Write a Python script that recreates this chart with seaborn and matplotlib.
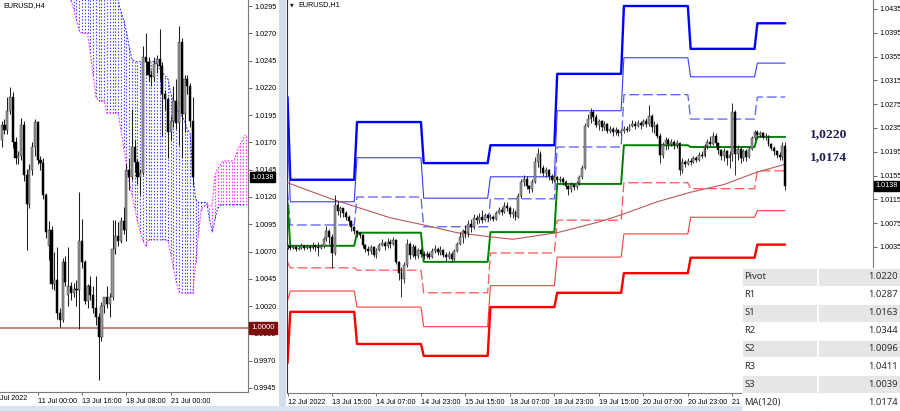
import numpy as np
import pandas as pd
import matplotlib
matplotlib.use("Agg")
import matplotlib.pyplot as plt
import matplotlib.transforms as mtrans
from matplotlib.patches import Rectangle
import seaborn as sns

# ================= DATA =================
# ---- right panel: EURUSD H1 candles, prices in pips above 1.0000 (bar 0 = 12 Jul 23:00)
h1_first_open = 34
h1_close = [36, 33, 35, 32, 34, 36, 33, 35, 34, 37, 35, 33, 36, 48, 62, 52, 25, 105, 96, 100, 92, 86, 78, 68, 62,
            58, 55, 38, 32, 28, 35, 22, 30, 38, 42, 36, 44, 40, 46, 10, -8, -18, 5, 40, 22, 35, 20, 30, 24,
            20, 24, 18, 28, 32, 26, 30, 22, 18, 24, 14, 28, 40, 52, 62, 58, 74, 68, 84, 80, 86, 80, 88, 84,
            86, 82, 92, 98, 94, 104, 100, 90, 94, 86, 120, 145, 150, 138, 132, 145, 178, 192, 168, 160, 164, 155, 148, 152,
            147, 150, 145, 138, 133, 140, 135, 142, 152, 168, 238, 250, 262, 254, 240, 246, 236, 242, 230, 234, 228, 232, 226, 230,
            234, 232, 238, 242, 238, 244, 240, 246, 242, 255, 236, 240, 222, 190, 206, 214, 208, 212, 206, 210, 164, 178, 174, 180,
            178, 184, 182, 190, 188, 204, 212, 208, 222, 210, 198, 188, 196, 184, 190, 262, 192, 200, 184, 196, 186, 200, 218, 228,
            224, 226, 220, 222, 208, 202, 196, 190, 186, 205, 138]
h1_high = [40, 38, 39, 37, 37, 41, 38, 39, 38, 43, 40, 44, 40, 52, 70, 66, 56, 122, 113, 104, 100, 95, 88, 80, 70,
           64, 60, 57, 40, 36, 38, 37, 34, 42, 48, 45, 50, 48, 51, 48, 12, 2, 10, 48, 44, 40, 38, 34, 33,
           28, 28, 26, 33, 38, 35, 36, 32, 26, 28, 26, 32, 44, 60, 66, 72, 80, 82, 90, 88, 92, 97, 92, 90,
           90, 89, 96, 102, 102, 110, 111, 104, 100, 98, 126, 150, 156, 154, 140, 150, 186, 201, 196, 172, 170, 166, 158, 156,
           155, 154, 152, 148, 140, 144, 143, 146, 156, 172, 243, 258, 268, 266, 258, 250, 248, 246, 244, 238, 236, 236, 234, 234,
           238, 238, 242, 248, 246, 248, 246, 250, 252, 274, 258, 246, 244, 226, 212, 220, 218, 216, 215, 214, 212, 184, 182, 185,
           184, 188, 188, 194, 196, 208, 216, 222, 228, 226, 212, 200, 202, 198, 196, 277, 266, 206, 204, 200, 200, 204, 222, 232,
           232, 230, 228, 226, 224, 210, 204, 198, 194, 212, 211]
h1_low = [31, 30, 31, 28, 30, 32, 30, 31, 29, 32, 28, 20, 31, 34, 45, 40, 0, 22, 88, 86, 85, 80, 72, 62, 56,
          52, 50, 34, 26, 22, 24, 18, 16, 28, 36, 30, 34, 34, 38, 6, -20, -49, -25, 2, 14, 18, 14, 16, 18,
          15, 17, 14, 16, 25, 22, 22, 18, 12, 14, 10, 12, 26, 38, 42, 50, 52, 60, 66, 74, 76, 75, 78, 78,
          80, 78, 80, 90, 88, 92, 95, 86, 84, 80, 84, 118, 138, 132, 126, 128, 142, 170, 160, 154, 152, 148, 143, 144,
          143, 144, 140, 132, 122, 128, 130, 132, 140, 150, 166, 236, 244, 246, 236, 232, 230, 232, 226, 226, 222, 224, 222, 224,
          226, 228, 230, 236, 234, 236, 234, 238, 236, 238, 228, 226, 218, 176, 184, 198, 200, 204, 200, 202, 156, 160, 170, 172,
          172, 176, 178, 180, 184, 186, 200, 204, 206, 204, 192, 182, 180, 172, 168, 180, 156, 182, 176, 180, 180, 184, 198, 214,
          218, 220, 216, 214, 204, 198, 190, 184, 181, 182, 131]
h1_tick_pos = [0, 16, 32, 48, 64, 80, 96, 112, 128, 144, 160]
h1_tick_labels = ["12 Jul 2022", "13 Jul 15:00", "14 Jul 07:00", "14 Jul 23:00", "15 Jul 15:00",
                  "18 Jul 07:00", "18 Jul 23:00", "19 Jul 15:00", "20 Jul 07:00", "20 Jul 23:00",
                  "21 Jul 15:00"]
h1_price_ticks = [1.0435, 1.0395, 1.0355, 1.0315, 1.0275, 1.0235, 1.0195, 1.0155, 1.0115, 1.0075, 1.0035]

# daily pivot levels (12 Jul ... 22 Jul) and number of H1 bars of each day on screen
day_bars = [1, 24, 24, 24, 24, 24, 24, 24, 11]
piv_R3 = [1.0287, 1.0148, 1.0245, 1.0176, 1.0206, 1.0326, 1.0440, 1.0368, 1.0411]
piv_R2 = [1.0230, 1.0111, 1.0185, 1.0117, 1.0153, 1.0264, 1.0353, 1.0321, 1.0344]
piv_R1 = [1.0130, 1.0072, 1.0119, 1.0069, 1.0116, 1.0203, 1.0291, 1.0250, 1.0287]
piv_P = [1.0110, 1.0037, 1.0059, 1.0010, 1.0060, 1.0141, 1.0206, 1.0203, 1.0220]
piv_S1 = [1.0010, 1.0000, 0.9996, 0.9958, 1.0025, 1.0080, 1.0143, 1.0133, 1.0163]
piv_S2 = [0.9945, 0.9961, 0.9934, 0.9901, 0.9970, 1.0018, 1.0057, 1.0085, 1.0096]
piv_S3 = [0.9840, 0.9926, 0.9872, 0.9852, 0.9934, 0.9958, 0.9991, 1.0017, 1.0039]

# MA(120) read at some bars
ma_bar = [0, 15, 25, 37, 49, 61, 73, 81, 97, 112, 120, 133, 145, 157, 169, 179]
ma_val = [1.0143, 1.0117, 1.0102, 1.0084, 1.0072, 1.0059, 1.0052, 1.0048, 1.0059, 1.0077,
          1.0089, 1.0111, 1.0127, 1.0140, 1.0161, 1.0174]

# ---- left panel: EURUSD H4 candles, pips above 1.0000
h4_open = [172, 186, 181, 199, 212, 170, 156, 158, 186, 140, 114, 145, 166, 189, 154, 151, 122, 75, 90, 40,
           44, 14, 7, 60, 30, 38, 32, 36, 35, 80, 60, 25, 38, 30, 18, 10, -8, 20, 28, 22,
           28, 72, 84, 80, 98, 90, 145, 138, 166, 152, 138, 142, 248, 244, 232, 230, 242, 246, 240, 214,
           210, 180, 190, 208, 188, 262, 196, 228, 222, 190]
h4_high = [190, 191, 212, 221, 216, 175, 162, 192, 190, 146, 150, 170, 191, 190, 158, 156, 124, 98, 93, 70,
           74, 18, 64, 66, 74, 42, 41, 44, 125, 100, 62, 40, 48, 38, 48, 14, 24, 28, 38, 32,
           99, 99, 97, 102, 111, 150, 156, 201, 172, 155, 146, 258, 270, 248, 236, 248, 250, 274, 244, 218,
           212, 194, 222, 228, 277, 266, 232, 232, 224, 212]
h4_low = [166, 178, 178, 196, 165, 150, 150, 154, 135, 71, 110, 140, 158, 150, 145, 118, 82, 62, 36, 35,
          8, 1, 5, 38, 20, 26, 28, 20, -1, 55, 22, 18, 26, 14, 3, -48, -12, 14, 18, 10,
          26, 68, 75, 78, 86, 80, 126, 136, 143, 132, 122, 140, 232, 226, 222, 226, 234, 226, 176, 200,
          156, 172, 184, 182, 168, 156, 180, 214, 184, 131]
h4_close = [186, 181, 199, 212, 170, 156, 158, 186, 140, 114, 145, 166, 189, 154, 151, 122, 88, 90, 40, 44,
            14, 7, 60, 42, 38, 32, 36, 35, 80, 60, 25, 38, 30, 18, 10, -8, 20, 28, 22, 28,
            72, 84, 80, 98, 90, 145, 138, 166, 152, 138, 142, 248, 244, 232, 230, 242, 246, 240, 214, 210,
            180, 190, 208, 188, 262, 196, 228, 222, 190, 138]
h4_tick_pos = [13, 29, 45, 61]
h4_tick_labels = ["11 Jul 00:00", "13 Jul 16:00", "18 Jul 08:00", "21 Jul 00:00"]
h4_first_label = "Jul 2022"
h4_price_ticks = [1.0295, 1.0270, 1.0245, 1.0220, 1.0195, 1.0170, 1.0145, 1.0120, 1.0095,
                  1.0070, 1.0045, 1.0020, 0.9995, 0.9970, 0.9945]

# Ichimoku cloud (senkou spans), bars 25..88, pips above 1.0000
cloud_start = 25
span_a = [320] * 17 + [300, 290, 282, 272, 258, 246, 244, 244, 244, 244, 244, 244, 244, 244, 242, 238, 234, 231,
                       228, 215, 208, 200, 196, 194, 190, 182, 178, 140, 118, 115, 115, 115, 115, 100, 88, 100, 110] + [113] * 10
span_b = [300, 292, 282, 272, 270, 270, 270, 252, 232, 212, 208, 208, 208, 197, 197, 197, 197, 197, 182, 166,
          150, 134, 122, 110, 98, 88, 80, 75, 81, 81, 81, 81, 81, 81, 81, 80, 68, 55, 42, 33,
          32, 32, 32, 32, 32, 60, 85, 108, 112, 112, 112, 112, 140, 146, 150, 153, 153, 153, 153, 154,
          162, 168, 172, 177]

# pivot table
table_names = ["Pivot", "R1", "S1", "R2", "S2", "R3", "S3", "MA(120)"]
table_values = ["1.0220", "1.0287", "1.0163", "1.0344", "1.0096", "1.0411", "1.0039", "1.0174"]
big_labels = ["1,0220", "1,0174"]

# ================= DRAW =================
sns.set_theme(style="white")
plt.rcParams['font.family'] = ['Liberation Sans', 'DejaVu Sans']

W, H = 900, 411
fig = plt.figure(figsize=(9, 4.11), dpi=100)
fig.patch.set_facecolor("white")


def rect(x0, y0, x1, y1):
    return [x0 / W, 1 - y1 / H, (x1 - x0) / W, (y1 - y0) / H]


def pips(v):
    return 1.0 + np.asarray(v, dtype=float) / 10000.0


def draw_candles(ax, x, o, h, l, c, width, wick_lw):
    x = np.asarray(x, dtype=float)
    ax.vlines(x, l, h, color="#1e1e1e", lw=wick_lw, zorder=4)
    up = c >= o
    body = np.maximum(np.abs(c - o), 0.00008)
    bottom = np.minimum(o, c)
    ax.bar(x[up], body[up], bottom=bottom[up], width=width, color="#9a9a9a",
           edgecolor="#333333", linewidth=0.35, zorder=5)
    ax.bar(x[~up], body[~up], bottom=bottom[~up], width=width, color="#000000",
           edgecolor="#000000", linewidth=0.35, zorder=5)


def style_axis(ax, spines_on):
    for s in ["left", "right", "top", "bottom"]:
        ax.spines[s].set_visible(s in spines_on)
        ax.spines[s].set_color("#7a7a7a")
        ax.spines[s].set_linewidth(0.8)
    ax.yaxis.tick_right()
    ax.tick_params(axis="y", which="both", right=True, left=False, length=3, width=0.6,
                   color="#505050", labelsize=5.2, pad=1.5, labelcolor="#000000")
    ax.tick_params(axis="x", which="both", bottom=True, length=2, width=0.6,
                   color="#505050", labelsize=5.2, pad=2.2, labelcolor="#000000")
    for lbl in ax.get_xticklabels():
        lbl.set_ha("left")
    ax.set_xlabel("")
    ax.set_ylabel("")
    ax.grid(False)


# ---------- left panel (H4 + Ichimoku) ----------
axL = fig.add_axes(rect(0, 0, 248, 392))
axL.set_facecolor("white")
j_cloud = np.arange(cloud_start, cloud_start + len(span_a))
sa = pips(span_a)
sb = pips(span_b)
cols = np.where(sa >= sb, "#4040ff", "#ff30ff")
axL.vlines(j_cloud, np.minimum(sa, sb), np.maximum(sa, sb), colors=list(cols),
           linestyles=(0, (1.3, 1.6)), lw=0.8, zorder=1)
cloud_df = pd.DataFrame({"bar": j_cloud, "a": sa, "b": sb})
sns.lineplot(data=cloud_df, x="bar", y="a", ax=axL, color="#2a2aff", lw=0.8,
             linestyle=(0, (1.5, 1.5)), errorbar=None, zorder=2)
sns.lineplot(data=cloud_df, x="bar", y="b", ax=axL, color="#ff2aff", lw=0.8,
             linestyle=(0, (1.5, 1.5)), errorbar=None, zorder=2)
axL.axhline(1.0, color="#b86c6c", lw=1.2, zorder=3)
j = np.arange(len(h4_close))
draw_candles(axL, j, pips(h4_open), pips(h4_high), pips(h4_low), pips(h4_close), 0.78, 0.75)
axL.set_xlim(-0.61, 88.9)
axL.set_ylim(0.99413, 1.03005)
axL.set_yticks(h4_price_ticks)
axL.set_yticklabels([f"{v:.4f}" for v in h4_price_ticks])
axL.set_xticks(h4_tick_pos)
axL.set_xticklabels(h4_tick_labels)
style_axis(axL, ["right", "bottom"])
trL = mtrans.blended_transform_factory(axL.transAxes, axL.transData)
axL.text(251 / 248, 1.0138, "1.0138", transform=trL, ha="left", va="center", fontsize=5.2,
         color="white", bbox=dict(boxstyle="square,pad=0.2", fc="black", ec="black"),
         clip_on=False, zorder=10)
axL.text(251 / 248, 1.0000, "1.0000", transform=trL, ha="left", va="center", fontsize=5.6,
         color="white", bbox=dict(boxstyle="square,pad=0.3", fc="#7d0c0c", ec="#7d0c0c"),
         clip_on=False, zorder=10)

# ---------- right panel (H1 + pivots) ----------
axR = fig.add_axes(rect(287, 0, 873, 393))
axR.set_facecolor("white")
bars = np.arange(len(h1_close))
lvl_styles = [
    (piv_R3, "#0000ff", 1.7, "-"),
    (piv_R2, "#3c3cff", 0.8, "-"),
    (piv_R1, "#5a5aff", 0.9, (0, (8, 3))),
    (piv_P, "#008000", 1.4, "-"),
    (piv_S1, "#ff5555", 0.9, (0, (8, 3))),
    (piv_S2, "#ff3c3c", 0.8, "-"),
    (piv_S3, "#ff0000", 1.7, "-"),
]
for vals, col, lw, ls in lvl_styles:
    per_bar = np.repeat(vals, day_bars)
    sns.lineplot(x=bars, y=per_bar, ax=axR, color=col, lw=lw, linestyle=ls,
                 errorbar=None, zorder=2)
ma_df = pd.DataFrame({"bar": ma_bar, "ma": ma_val})
sns.lineplot(data=ma_df, x="bar", y="ma", ax=axR, color="#b35c5a", lw=0.8,
             errorbar=None, zorder=3)
c1 = pips(h1_close)
o1 = np.concatenate([pips([h1_first_open]), c1[:-1]])
draw_candles(axR, bars, o1, pips(h1_high), pips(h1_low), c1, 0.68, 0.65)
axR.set_xlim(-0.18, 210.6)
axR.set_ylim(0.97896, 1.04501)
axR.set_yticks(h1_price_ticks)
axR.set_yticklabels([f"{v:.4f}" for v in h1_price_ticks])
axR.set_xticks(h1_tick_pos)
axR.set_xticklabels(h1_tick_labels)
style_axis(axR, ["left", "right", "bottom"])
axR.spines["left"].set_color("#303030")
# the last date label is partly hidden by the pivot table
clip_rect = Rectangle((0, 0), 741.5 / W, 1, transform=fig.transFigure, visible=False)
fig.patches.append(clip_rect)
last_lbl = axR.get_xticklabels()[-1]
last_lbl.set_clip_path(clip_rect)
last_lbl.set_clip_on(True)
trR = mtrans.blended_transform_factory(axR.transAxes, axR.transData)
axR.text((875 - 287) / 586, 1.0138, "1.0138", transform=trR, ha="left", va="center",
         fontsize=5.2, color="white", bbox=dict(boxstyle="square,pad=0.2", fc="black", ec="black"),
         clip_on=False, zorder=10)

# big level labels
fig.text(810 / W, 1 - 134 / H, big_labels[0], family="Liberation Serif", weight="bold",
         fontsize=9.7, color="#1c1c4e", ha="left", va="center")
fig.text(810 / W, 1 - 157 / H, big_labels[1], family="Liberation Serif", weight="bold",
         fontsize=9.7, color="#1c1c4e", ha="left", va="center")

# titles
fig.text(3 / W, 1 - 6 / H, "EURUSD,H4", fontsize=5.2, ha="left", va="center", color="#000000")
fig.text(290 / W, 1 - 5 / H, "\u25bc", fontsize=3.5, family="DejaVu Sans", ha="left", va="center", color="#202020")
fig.text(298 / W, 1 - 5 / H, "EURUSD,H1", fontsize=5.2, ha="left", va="center", color="#000000")
fig.text(0.5 / W, 1 - 398.5 / H, h4_first_label, fontsize=5.2, ha="left", va="center", color="#000000")

# window frame strips
fig.patches.append(Rectangle((279 / W, 0), 7 / W, 1, transform=fig.transFigure,
                             fc="#d3dce8", ec="none", zorder=-1))
fig.patches.append(Rectangle((0, 0), 1, 5 / H, transform=fig.transFigure,
                             fc="#d8e3f0", ec="none", zorder=-1))

# pivot table
axT = fig.add_axes(rect(742, 268, 900, 411))
axT.set_xlim(0, 158)
axT.set_ylim(143, 0)
axT.axis("off")
rh = 143 / 8
for k, (nm, vv) in enumerate(zip(table_names, table_values)):
    y0 = k * rh
    fc = "#e6e6e6" if k % 2 == 0 else "#ffffff"
    axT.add_patch(Rectangle((0, y0), 75, rh, fc=fc, ec="white", lw=0.6))
    axT.add_patch(Rectangle((75.5, y0), 82.5, rh, fc=fc, ec="white", lw=0.6))
    axT.text(2.5, y0 + rh / 2, nm, ha="left", va="center", fontsize=6.8,
             family="Noto Sans", color="#2e2e2e")
    axT.text(155.5, y0 + rh / 2, vv, ha="right", va="center", fontsize=6.8,
             family="Noto Sans", color="#2e2e2e")

fig.savefig("out.png", dpi=100)
